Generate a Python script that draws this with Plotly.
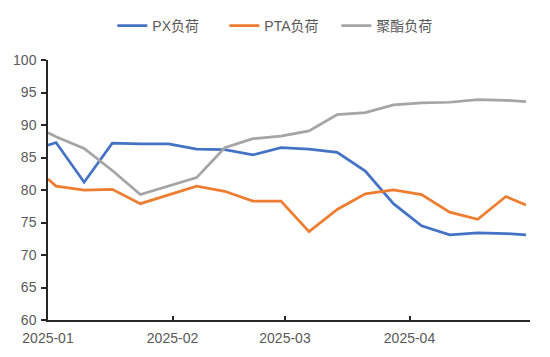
import plotly.graph_objects as go

dates = ["2025-01-01", "2025-01-03", "2025-01-10", "2025-01-17", "2025-01-24",
         "2025-01-31", "2025-02-07", "2025-02-14", "2025-02-21", "2025-02-28",
         "2025-03-07", "2025-03-14", "2025-03-21", "2025-03-28", "2025-04-04",
         "2025-04-11", "2025-04-18", "2025-04-25", "2025-04-30"]
px_load = [86.9, 87.3, 81.2, 87.2, 87.1, 87.1, 86.3, 86.2, 85.4, 86.5,
           86.3, 85.8, 82.9, 77.9, 74.5, 73.1, 73.4, 73.3, 73.1]
pta_load = [81.7, 80.6, 80.0, 80.1, 77.9, 79.3, 80.6, 79.8, 78.3, 78.3,
            73.6, 77.0, 79.4, 80.0, 79.3, 76.6, 75.5, 79.0, 77.7]
polyester_load = [88.8, 88.2, 86.4, 83.0, 79.3, 80.6, 81.9, 86.5, 87.9, 88.3,
                  89.1, 91.6, 91.9, 93.1, 93.4, 93.5, 93.9, 93.8, 93.6]

series_names = ["PX负荷", "PTA负荷", "聚酯负荷"]
series_colors = ["#4472C4", "#ED7D31", "#A5A5A5"]

x_tickvals = ["2025-01-01", "2025-02-01", "2025-03-01", "2025-04-01", "2025-05-01"]
x_ticktext = ["2025-01", "2025-02", "2025-03", "2025-04", ""]
y_tickvals = [60, 65, 70, 75, 80, 85, 90, 95, 100]

FONT = "Liberation Sans, Arial, Noto Sans CJK SC, sans-serif"

fig = go.Figure()
for name, vals, color in zip(series_names, [px_load, pta_load, polyester_load], series_colors):
    fig.add_trace(go.Scatter(
        x=dates, y=vals, mode="lines", name=name,
        line=dict(color=color, width=2.75),
    ))

# the page body adds an 8px margin, so the figure is sized to fit the window
fig.update_layout(
    width=542, height=349,
    margin=dict(l=40, r=20, t=52, b=37, autoexpand=False),
    paper_bgcolor="white", plot_bgcolor="white",
    font=dict(family=FONT, size=14, color="#595959"),
    showlegend=True,
    legend=dict(
        orientation="h", x=0.5025, xanchor="center", xref="container",
        y=0.994, yanchor="top", yref="container",
        font=dict(size=14, color="#595959"),
        itemwidth=30, tracegroupgap=0,
        entrywidth=67, entrywidthmode="pixels",
    ),
)

fig.update_xaxes(
    type="date",
    range=["2025-01-01", "2025-05-01"],
    tickmode="array", tickvals=x_tickvals, ticktext=x_ticktext,
    showgrid=False, zeroline=False, automargin=False,
    showline=True, linecolor="#262626", linewidth=1.5,
    ticks="inside", ticklen=4, tickcolor="#262626", tickwidth=1.5,
    ticklabelstandoff=4,
    tickfont=dict(size=14, color="#595959"),
)
fig.update_yaxes(
    range=[60, 100],
    tickmode="array", tickvals=y_tickvals,
    showgrid=False, zeroline=False, automargin=False,
    showline=True, linecolor="#262626", linewidth=1.5,
    ticks="outside", ticklen=5, tickcolor="#262626", tickwidth=1.5,
    ticklabelstandoff=2,
    tickfont=dict(size=14, color="#595959"),
)

fig.write_html("out.html")
